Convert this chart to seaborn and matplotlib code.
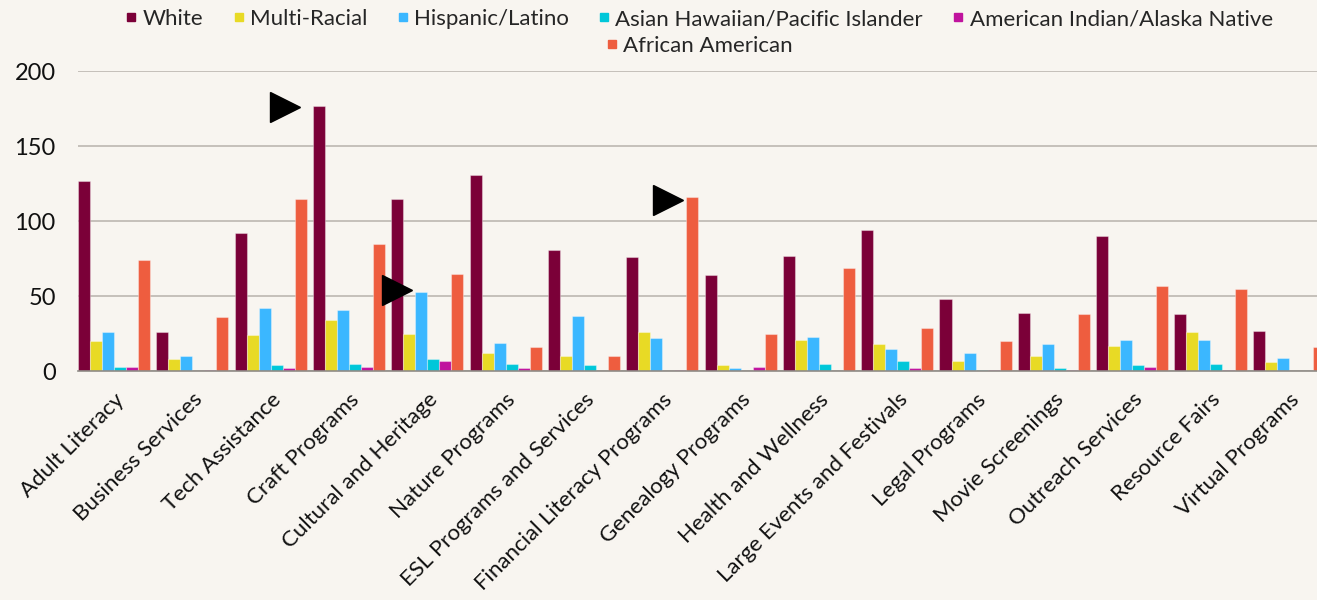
import matplotlib
matplotlib.use('Agg')
import matplotlib.pyplot as plt
import seaborn as sns
import pandas as pd
from matplotlib.lines import Line2D

programs = ['Adult Literacy', 'Business Services', 'Tech Assistance', 'Craft Programs',
            'Cultural and Heritage', 'Nature Programs', 'ESL Programs and Services',
            'Financial Literacy Programs', 'Genealogy Programs', 'Health and Wellness',
            'Large Events and Festivals', 'Legal Programs', 'Movie Screenings',
            'Outreach Services', 'Resource Fairs', 'Virtual Programs']

groups = ['White', 'Multi-Racial', 'Hispanic/Latino', 'Asian Hawaiian/Pacific Islander',
          'American Indian/Alaska Native', 'African American']

white = [127, 26, 92, 177, 115, 131, 81, 76, 64, 77, 94, 48, 39, 90, 38, 27]
multi_racial = [20, 8, 24, 34, 25, 12, 10, 26, 4, 21, 18, 7, 10, 17, 26, 6]
hispanic = [26, 10, 42, 41, 53, 19, 37, 22, 2, 23, 15, 12, 18, 21, 21, 9]
asian_pi = [3, 0, 4, 5, 8, 5, 4, 0, 0, 5, 7, 1, 2, 4, 5, 0]
am_indian = [3, 1, 2, 3, 7, 2, 0, 1, 3, 0, 2, 1, 1, 3, 1, 0]
african_american = [74, 36, 115, 85, 65, 16, 10, 116, 25, 69, 29, 20, 38, 57, 55, 16]

colors = ['#7b0038', '#e8da25', '#3bb7ff', '#00c7d9', '#c0139e', '#ee5d3f']

series = [white, multi_racial, hispanic, asian_pi, am_indian, african_american]
rows = []
for g, vals in zip(groups, series):
    for p, v in zip(programs, vals):
        rows.append({'Program': p, 'Group': g, 'Count': v})
df = pd.DataFrame(rows)

bg = '#f8f5f0'
sns.set_style('white')
plt.rcParams['font.family'] = ['Lato', 'DejaVu Sans']

fig = plt.figure(figsize=(13.17, 6), dpi=100, facecolor=bg)
ax = fig.add_axes([0.0592, 0.381, 0.9408, 0.5])
ax.set_facecolor(bg)

sns.barplot(data=df, x='Program', y='Count', hue='Group', hue_order=groups,
            palette=colors, width=0.92, saturation=1, ax=ax, legend=False,
            edgecolor=(1, 1, 1, 0.35), linewidth=0.8)

ax.set_xlim(-0.46, 15.36)
ax.set_ylim(0, 200)
ax.set_yticks([0, 50, 100, 150, 200])
ax.yaxis.grid(True, color='#bcb7b1', linewidth=1.2)
ax.set_axisbelow(True)
for s in ['top', 'right', 'left']:
    ax.spines[s].set_visible(False)
ax.spines['bottom'].set_color('#8f8b86')
ax.spines['bottom'].set_linewidth(1.2)
ax.tick_params(axis='both', length=0, colors='#111111')
ax.tick_params(axis='y', pad=16, labelsize=17)
ax.set_xlabel('')
ax.set_ylabel('')
ax.set_xticks(range(len(programs)))
ax.set_xticklabels(programs, rotation=45, ha='right', va='top',
                   rotation_mode='anchor', fontsize=16)
ax.tick_params(axis='x', pad=13)

# black pointer triangles
ax.plot([2.18, 3.61, 7.07], [176, 54, 114], linestyle='none', marker='>',
        markersize=22, color='black', clip_on=False)

handles = [Line2D([], [], linestyle='none', marker='s', markersize=6, color=c)
           for c in colors]
leg1 = ax.legend(handles[:5], groups[:5], ncol=5, loc='center',
                 bbox_to_anchor=(0.5, 1.174), frameon=False, fontsize=16,
                 handletextpad=0.1, columnspacing=1.2, handlelength=0.8)
ax.add_artist(leg1)
ax.legend(handles[5:], groups[5:], ncol=1, loc='center',
          bbox_to_anchor=(0.5, 1.085), frameon=False, fontsize=16,
          handletextpad=0.1, handlelength=0.8)

fig.savefig('out.png', dpi=100, facecolor=bg)
